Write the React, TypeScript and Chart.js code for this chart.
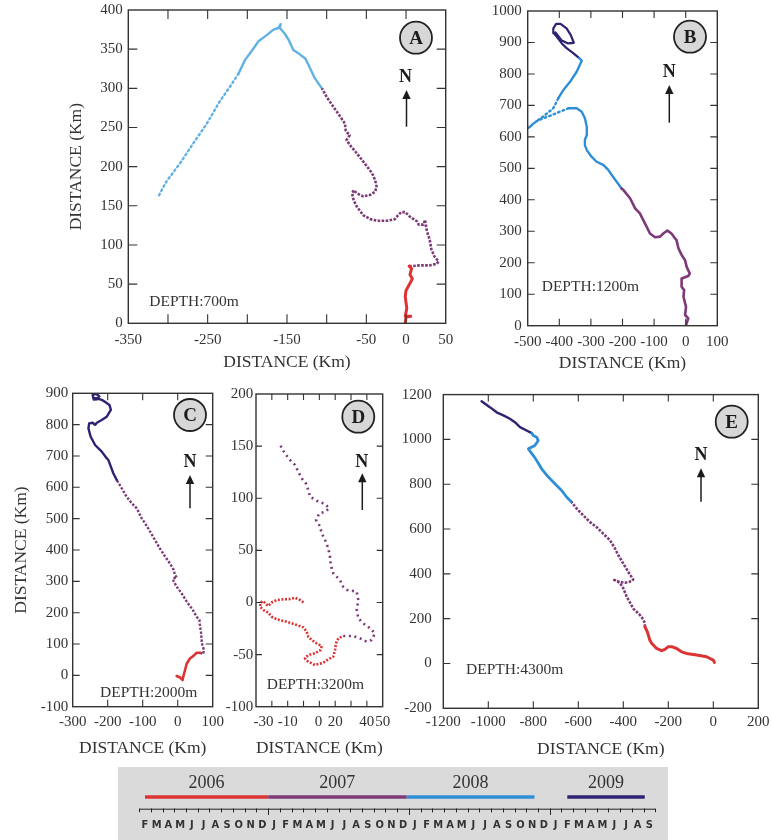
import React, { useEffect, useRef } from 'react';
import { Chart, registerables } from 'chart.js';
Chart.register(...registerables);

const SERIF = '"Liberation Serif", "Times New Roman", serif';
const NARROW = '"Liberation Sans Narrow", "DejaVu Sans Condensed", "Arial Narrow", sans-serif';
const INK = '#333333';

const C2006 = '#dc3434';
const C2007 = '#7d3a78';
const C2008 = '#2f8fd6';
const C2008_LIGHT = '#62b1e3';
const C2009 = '#2c2472';

// ---------------- Panel A : depth 700 m ----------------
const A_2006 = [[-1, 0], [0, 8], [6, 9], [-1, 9], [1, 19], [-1, 34], [0, 42], [5, 51], [8, 57], [5, 62], [7, 70], [4, 73]];
const A_2007 = [[4, 73], [7, 73], [18, 74], [30, 74], [39, 76], [41, 79], [36, 85], [32, 94], [30, 106], [26, 119], [24, 132], [22, 126], [16, 126], [14, 130], [5, 136], [-1, 142], [-6, 142], [-10, 138], [-14, 133], [-24, 131], [-37, 131], [-45, 133], [-54, 138], [-62, 149], [-66, 157], [-68, 166], [-66, 170], [-62, 166], [-54, 162], [-45, 164], [-39, 168], [-37, 174], [-39, 183], [-43, 192], [-52, 204], [-62, 217], [-71, 228], [-75, 234], [-71, 240], [-76, 246], [-77, 255], [-83, 264], [-92, 277], [-100, 289], [-106, 300]];
const A_2008 = [[-106, 300], [-115, 313], [-123, 330], [-127, 338], [-136, 345], [-142, 349], [-148, 362], [-153, 370], [-159, 377], [-158, 382], [-161, 377], [-167, 375], [-178, 366], [-186, 360], [-195, 347], [-203, 336], [-211, 319], [-222, 302], [-235, 283], [-251, 255], [-268, 230], [-285, 204], [-302, 181], [-310, 166], [-312, 162]];

// ---------------- Panel B : depth 1200 m ----------------
const B_2007 = [[1, 2], [8, 23], [-2, 34], [1, 60], [-7, 92], [-5, 113], [-13, 124], [-13, 150], [8, 158], [13, 166], [3, 187], [-2, 208], [-13, 225], [-23, 246], [-29, 272], [-34, 278], [-45, 293], [-58, 302], [-71, 293], [-81, 283], [-97, 281], [-113, 293], [-129, 325], [-145, 357], [-160, 373], [-176, 405], [-197, 431], [-203, 436]];
const B_2008 = [[-203, 436], [-219, 458], [-234, 479], [-245, 495], [-261, 511], [-282, 521], [-298, 537], [-313, 558], [-319, 574], [-319, 590], [-313, 606], [-313, 632], [-319, 659], [-329, 680], [-345, 691], [-371, 691], [-398, 680], [-424, 669], [-456, 657], [-477, 647], [-498, 628], [-472, 650], [-447, 668], [-419, 691], [-403, 723], [-387, 749], [-366, 775], [-345, 807], [-329, 842], [-337, 850]];
const B_2009 = [[-337, 850], [-356, 866], [-377, 882], [-392, 897], [-408, 918], [-417, 929], [-419, 945], [-410, 959], [-396, 959], [-377, 945], [-364, 924], [-354, 899], [-372, 897], [-392, 906], [-406, 924], [-412, 932]];

// ---------------- Panel C : depth 2000 m ----------------
const C_2006 = [[-3, -2], [7, -7], [14, -15], [16, -4], [21, 17], [26, 38], [35, 54], [45, 62], [54, 72], [64, 72]];
const C_2007 = [[64, 72], [73, 68], [75, 81], [69, 102], [67, 134], [64, 155], [62, 177], [54, 187], [43, 209], [35, 221], [26, 235], [11, 262], [-3, 283], [-12, 301], [-13, 310], [-2, 312], [-8, 320], [-11, 336], [-22, 357], [-36, 379], [-51, 405], [-65, 432], [-79, 459], [-93, 485], [-103, 501], [-117, 533], [-131, 549], [-146, 570], [-160, 597], [-174, 623]];
const C_2009 = [[-174, 623], [-184, 645], [-191, 666], [-198, 687], [-203, 693], [-217, 714], [-236, 735], [-249, 762], [-255, 788], [-253, 804], [-243, 806], [-236, 799], [-231, 806], [-217, 815], [-203, 825], [-191, 847], [-195, 863], [-208, 873], [-217, 879], [-231, 884], [-241, 884], [-243, 895], [-233, 898], [-224, 891], [-230, 881], [-240, 880]];

// ---------------- Panel D : depth 3200 m ----------------
const D_2006 = [[0, 0], [-2.2, 2.4], [-5.4, 4.6], [-8.5, 3.3], [-12.8, 3], [-16.9, 2.4], [-20.1, 0], [-22.2, -3.4], [-23.7, -1.5], [-25.4, 1.4], [-27, 0], [-27.5, -4], [-25.4, -7.2], [-22.2, -9.8], [-20.1, -13.7], [-16.9, -16.2], [-10.6, -18.5], [-4.3, -21.6], [-0.1, -23.9], [2, -28], [3, -32.9], [5.2, -36], [8.3, -39.2], [11.5, -41.8], [10.8, -45.6], [7.2, -48.8], [3, -50.4], [0.9, -53.6], [2, -55.9], [7.2, -60], [12.5, -57.8], [15.6, -54.5], [18.8, -52], [19.9, -45.6], [20.5, -39.2], [22, -34.4], [25.1, -32.2]];
const D_2007 = [[25.1, -32.2], [31.4, -32.2], [35.7, -34.4], [39.9, -37.6], [43, -36], [45.1, -29.6], [42, -24.8], [37.7, -20], [34.6, -15.2], [33.6, -7.2], [34.6, 2.4], [33.6, 10.3], [27.6, 12], [25.1, 15], [23, 21.5], [18.8, 28], [17.2, 36], [16.7, 44], [15.6, 52], [13.6, 60], [11.5, 66.4], [10.4, 72.7], [9.3, 76], [7.9, 79], [10, 85.5], [13.6, 87], [16.3, 90.3], [14.2, 93.5], [11.5, 95.7], [8.3, 97.6], [4.1, 101.5], [3, 108], [1.6, 114], [-1.1, 119], [-3.3, 125.5], [-5.4, 132], [-8.5, 136.7], [-11.7, 143], [-13.8, 148], [-14.8, 152]];

// ---------------- Panel E : depth 4300 m ----------------
const E_2006 = [[5, 5], [0, 15], [-30, 30], [-74, 38], [-119, 45], [-141, 52], [-163, 67], [-185, 75], [-200, 75], [-215, 63], [-230, 57], [-252, 67], [-274, 90], [-282, 104], [-293, 141], [-304, 164]];
const E_2007 = [[-304, 164], [-304, 179], [-311, 196], [-326, 216], [-341, 231], [-356, 245], [-385, 298], [-400, 335], [-415, 360], [-437, 372], [-447, 375], [-422, 366], [-393, 360], [-363, 367], [-356, 375], [-363, 386], [-378, 409], [-400, 446], [-422, 483], [-437, 513], [-459, 550], [-489, 579], [-519, 609], [-548, 631], [-578, 661], [-607, 691], [-630, 721]];
const E_2008 = [[-630, 721], [-652, 743], [-674, 772], [-704, 802], [-733, 832], [-763, 869], [-785, 906], [-800, 928], [-815, 948], [-822, 958], [-793, 973], [-778, 995], [-785, 1010], [-800, 1017], [-807, 1028]];
const E_2009 = [[-807, 1028], [-830, 1040], [-859, 1055], [-882, 1077], [-904, 1092], [-933, 1107], [-963, 1121], [-993, 1144], [-1030, 1170]];

// ---------------- Axis tick labels ----------------
const A_X_LABELS = [-350, -250, -150, -50, 0, 50];
const D_X_LABELS = [-30, -10, 0, 20, 40, 50];
// labels of panel D that the original typesets nudged to the right (leading spaces)
const D_X_NUDGE: Record<string, string> = { '-30': '    ', '0': '        ' };

// ---------------- Timeline legend ----------------
const YEAR_LABELS = ['2006', '2007', '2008', '2009'];
const YEAR_COLORS = [C2006, C2007, C2008, C2009];
const YEAR_SPAN_START = [1, 11.5, 23.3, 37];
const YEAR_SPAN_END = [11.5, 23.3, 34.2, 43.6];
const YEAR_BOUNDARIES = [11.5, 23.5, 35.5];
const MONTH_TICKS = ['F', 'M', 'A', 'M', 'J', 'J', 'A', 'S', 'O', 'N', 'D',
  'J', 'F', 'M', 'A', 'M', 'J', 'J', 'A', 'S', 'O', 'N', 'D',
  'J', 'F', 'M', 'A', 'M', 'J', 'J', 'A', 'S', 'O', 'N', 'D',
  'J', 'F', 'M', 'A', 'M', 'J', 'J', 'A', 'S'];

type Series = { pts: number[][]; color: string; width?: number; dash?: number[]; sparse?: [number, number] };
type Deco = { letter: string; circle: [number, number]; north: [number, number]; arrow: [number, number, number]; depth: string; depthPos: [number, number] };
type PanelCfg = {
  box: [number, number, number, number];
  canvas: [number, number, number, number];
  x: { min: number; max: number; step: number; labels?: number[]; nudge?: Record<string, string>; pad: number };
  y: { min: number; max: number; step: number; pad: number; title: boolean };
  tickLen: number;
  series: Series[];
  deco: Deco;
};

const SPARSE_DASH = [1.6, 3.2];

const PANELS: PanelCfg[] = [
  {
    box: [128.3, 10, 445.7, 323.3], canvas: [66, -10, 396, 383],
    x: { min: -350, max: 50, step: 50, labels: A_X_LABELS, pad: 7.7 },
    y: { min: 0, max: 400, step: 50, pad: 5.6, title: true }, tickLen: 9,
    series: [
      { pts: A_2006, color: C2006, width: 3 },
      { pts: A_2007, color: C2007, width: 2.6, dash: [2.6, 1.4] },
      { pts: A_2008, color: C2008_LIGHT, width: 2.4, sparse: [16, 24] },
    ],
    deco: { letter: 'A', circle: [416, 37.7], north: [405.5, 77.5], arrow: [406.5, 90, 126.7], depth: 'DEPTH:700m', depthPos: [149.3, 301.7] },
  },
  {
    box: [527.7, 11, 717.3, 325.7], canvas: [485, -9, 257, 383],
    x: { min: -500, max: 100, step: 100, pad: 7 },
    y: { min: 0, max: 1000, step: 100, pad: 6, title: false }, tickLen: 7,
    series: [
      { pts: B_2007, color: C2007, width: 2.6 },
      { pts: B_2008, color: C2008, width: 2.4, sparse: [15, 24] },
      { pts: B_2009, color: C2009, width: 2.2 },
    ],
    deco: { letter: 'B', circle: [690, 36.7], north: [669.3, 72], arrow: [669.3, 85, 122.7], depth: 'DEPTH:1200m', depthPos: [541.7, 286.7] },
  },
  {
    box: [72.7, 393.3, 212.7, 706.7], canvas: [11, 373, 223, 386],
    x: { min: -300, max: 100, step: 100, pad: 6 },
    y: { min: -100, max: 900, step: 100, pad: 4.4, title: true }, tickLen: 7,
    series: [
      { pts: C_2006, color: C2006, width: 2.6 },
      { pts: C_2007, color: C2007, width: 2.4, dash: [2.4, 1.6] },
      { pts: C_2009, color: C2009, width: 2.4 },
    ],
    deco: { letter: 'C', circle: [190, 415], north: [190, 462], arrow: [190, 475, 508.3], depth: 'DEPTH:2000m', depthPos: [100, 693.3] },
  },
  {
    box: [256, 394, 382.7, 706.7], canvas: [222, 374, 180, 385],
    x: { min: -30, max: 50, step: 10, labels: D_X_LABELS, nudge: D_X_NUDGE, pad: 6 },
    y: { min: -100, max: 200, step: 50, pad: 2.7, title: false }, tickLen: 6,
    series: [
      { pts: D_2006, color: C2006, width: 2.6, dash: [2, 1.6] },
      { pts: D_2007, color: C2007, width: 2.6, dash: [2, 3.6] },
    ],
    deco: { letter: 'D', circle: [358.3, 416.7], north: [361.7, 462], arrow: [362.3, 473.3, 510], depth: 'DEPTH:3200m', depthPos: [266.7, 685] },
  },
  {
    box: [443.3, 394, 758.3, 708.3], canvas: [395, 374, 383, 386],
    x: { min: -1200, max: 200, step: 200, pad: 4.4 },
    y: { min: -200, max: 1200, step: 200, pad: 11.6, title: false }, tickLen: 7,
    series: [
      { pts: E_2006, color: C2006, width: 3 },
      { pts: E_2007, color: C2007, width: 2.6, dash: [2.6, 1.4] },
      { pts: E_2008, color: C2008, width: 2.8 },
      { pts: E_2009, color: C2009, width: 2.4 },
    ],
    deco: { letter: 'E', circle: [731.7, 421.7], north: [701, 455.5], arrow: [701, 468.3, 501.7], depth: 'DEPTH:4300m', depthPos: [466, 670] },
  },
];

function makeFramePlugin(cfg: PanelCfg) {
  const [ox, oy] = cfg.canvas;
  return {
    id: 'frameDeco',
    afterDraw(chart: any) {
      const { ctx, chartArea } = chart;
      const { left, top, right, bottom } = chartArea;
      const xs = chart.scales.x;
      const ys = chart.scales.y;
      const len = cfg.tickLen;
      ctx.save();
      ctx.strokeStyle = INK;
      ctx.lineWidth = 1.4;
      ctx.strokeRect(left, top, right - left, bottom - top);
      ctx.lineWidth = 1.1;
      ctx.beginPath();
      xs.ticks.forEach((t: any) => {
        if (t.value <= xs.min || t.value >= xs.max) return;
        const p = xs.getPixelForValue(t.value);
        ctx.moveTo(p, bottom); ctx.lineTo(p, bottom - len);
        ctx.moveTo(p, top); ctx.lineTo(p, top + len);
      });
      ys.ticks.forEach((t: any) => {
        if (t.value <= ys.min || t.value >= ys.max) return;
        const p = ys.getPixelForValue(t.value);
        ctx.moveTo(left, p); ctx.lineTo(left + len, p);
        ctx.moveTo(right, p); ctx.lineTo(right - len, p);
      });
      ctx.stroke();

      const d = cfg.deco;
      const cx = d.circle[0] - ox, cy = d.circle[1] - oy;
      ctx.beginPath();
      ctx.arc(cx, cy, 16, 0, Math.PI * 2);
      ctx.fillStyle = '#d7d7d7';
      ctx.fill();
      ctx.lineWidth = 1.8;
      ctx.strokeStyle = '#222';
      ctx.stroke();
      ctx.fillStyle = '#1c1c1c';
      ctx.textAlign = 'center';
      ctx.textBaseline = 'middle';
      ctx.font = `bold 19px ${SERIF}`;
      ctx.fillText(d.letter, cx, cy + 1);

      ctx.font = `bold 18px ${SERIF}`;
      ctx.fillText('N', d.north[0] - ox, d.north[1] - oy);
      const ax = d.arrow[0] - ox, tip = d.arrow[1] - oy, tail = d.arrow[2] - oy;
      ctx.strokeStyle = '#1c1c1c';
      ctx.lineWidth = 1.5;
      ctx.beginPath();
      ctx.moveTo(ax, tail); ctx.lineTo(ax, tip + 6);
      ctx.stroke();
      ctx.beginPath();
      ctx.moveTo(ax, tip); ctx.lineTo(ax - 4.2, tip + 9); ctx.lineTo(ax + 4.2, tip + 9);
      ctx.closePath();
      ctx.fill();

      ctx.fillStyle = INK;
      ctx.textAlign = 'left';
      ctx.font = `15.5px ${SERIF}`;
      ctx.fillText(d.depth, d.depthPos[0] - ox, d.depthPos[1] - oy);
      ctx.restore();
    },
  };
}

function Panel({ cfg }: { cfg: PanelCfg }) {
  const ref = useRef<HTMLCanvasElement>(null);
  useEffect(() => {
    const [L, T, R, B] = cfg.box;
    const [cl, ct, cw, ch] = cfg.canvas;
    const tickFont = { family: SERIF, size: 15 };
    const titleFont = { family: SERIF, size: 17.5 };
    const xLabel = (v: any) => {
      if (cfg.x.labels && !cfg.x.labels.includes(v)) return '';
      const s = String(v);
      return cfg.x.nudge && cfg.x.nudge[s] ? cfg.x.nudge[s] + s : s;
    };
    const chart = new Chart(ref.current as HTMLCanvasElement, {
      type: 'scatter',
      data: {
        datasets: cfg.series.map((s) => ({
          data: s.pts.map(([x, y]) => ({ x, y })),
          showLine: true,
          borderColor: s.color,
          backgroundColor: s.color,
          borderWidth: s.width ?? 2.5,
          borderDash: s.dash ?? [],
          borderCapStyle: s.dash ? 'butt' : 'round',
          borderJoinStyle: 'round',
          pointRadius: 0,
          pointHoverRadius: 0,
          tension: 0,
          segment: s.sparse
            ? { borderDash: (c: any) => (c.p0DataIndex >= s.sparse![0] && c.p0DataIndex < s.sparse![1] ? SPARSE_DASH : undefined) }
            : undefined,
        })),
      },
      options: {
        responsive: false,
        animation: false,
        events: [],
        layout: { padding: { left: 0, top: T - ct, right: cl + cw - R, bottom: 0 } },
        plugins: { legend: { display: false }, tooltip: { enabled: false } },
        scales: {
          x: {
            type: 'linear', min: cfg.x.min, max: cfg.x.max,
            grid: { display: false, drawTicks: false, tickLength: 0 }, border: { display: false },
            ticks: {
              stepSize: cfg.x.step, padding: cfg.x.pad, font: tickFont, color: INK,
              autoSkip: false, maxRotation: 0, minRotation: 0,
              callback: xLabel,
            },
            title: { display: true, text: 'DISTANCE (Km)', font: titleFont, color: INK, padding: 0 },
            afterFit: (s: any) => { s.height = ct + ch - B; },
          },
          y: {
            type: 'linear', min: cfg.y.min, max: cfg.y.max,
            grid: { display: false, drawTicks: false, tickLength: 0 }, border: { display: false },
            ticks: { stepSize: cfg.y.step, padding: cfg.y.pad, font: tickFont, color: INK, autoSkip: false, callback: (v: any) => String(v) },
            title: { display: cfg.y.title, text: 'DISTANCE (Km)', font: titleFont, color: INK, padding: 0 },
            afterFit: (s: any) => { s.width = L - cl; },
          },
        },
      } as any,
      plugins: [makeFramePlugin(cfg)],
    });
    return () => chart.destroy();
  }, []);
  const [cl, ct, cw, ch] = cfg.canvas;
  return <canvas ref={ref} width={cw} height={ch} style={{ position: 'absolute', left: cl, top: ct, width: cw, height: ch }} />;
}

const TL_CANVAS = [118, 767, 560, 73];
const TL_BOX_WIDTH = 550;
const TL_AREA = { left: 139.1, right: 655.3, axisY: 808.7 };
const TL_BAR_LEVEL = 0.28;
const TL_LABEL_LEVEL = 0.6;

function Timeline() {
  const ref = useRef<HTMLCanvasElement>(null);
  useEffect(() => {
    const [cl, ct, cw, ch] = TL_CANVAS;
    const plugin = {
      id: 'timelineDeco',
      beforeDraw(chart: any) {
        const { ctx } = chart;
        ctx.save();
        ctx.fillStyle = '#dadada';
        ctx.fillRect(0, 0, TL_BOX_WIDTH, ch);
        ctx.restore();
      },
      afterDraw(chart: any) {
        const { ctx, chartArea } = chart;
        const xs = chart.scales.x;
        const ys = chart.scales.y;
        const yb = chartArea.bottom;
        ctx.save();
        ctx.strokeStyle = '#222';
        ctx.lineWidth = 1;
        ctx.beginPath();
        ctx.moveTo(xs.getPixelForValue(xs.min), yb + 0.5);
        ctx.lineTo(xs.getPixelForValue(xs.max), yb + 0.5);
        xs.ticks.forEach((t: any) => {
          [t.value - 0.5, t.value + 0.5].forEach((b) => {
            const p = Math.round(xs.getPixelForValue(b)) + 0.5;
            const big = YEAR_BOUNDARIES.includes(b);
            ctx.moveTo(p, yb);
            ctx.lineTo(p, yb + (big ? 6 : 3.5));
          });
        });
        ctx.stroke();
        ctx.fillStyle = INK;
        ctx.font = `18px ${SERIF}`;
        ctx.textAlign = 'center';
        ctx.textBaseline = 'middle';
        YEAR_LABELS.forEach((lab, i) => {
          const mid = (YEAR_SPAN_START[i] + YEAR_SPAN_END[i]) / 2;
          ctx.fillText(lab, xs.getPixelForValue(mid), ys.getPixelForValue(TL_LABEL_LEVEL));
        });
        ctx.restore();
      },
    };
    const chart = new Chart(ref.current as HTMLCanvasElement, {
      type: 'scatter',
      data: {
        datasets: YEAR_LABELS.map((lab, i) => ({
          label: lab,
          data: [{ x: YEAR_SPAN_START[i], y: TL_BAR_LEVEL }, { x: YEAR_SPAN_END[i], y: TL_BAR_LEVEL }],
          showLine: true,
          borderColor: YEAR_COLORS[i],
          backgroundColor: YEAR_COLORS[i],
          borderWidth: 3.4,
          borderCapStyle: 'butt',
          pointRadius: 0,
        })),
      },
      options: {
        responsive: false,
        animation: false,
        events: [],
        layout: { padding: { left: TL_AREA.left - cl, top: 0, right: cl + cw - TL_AREA.right, bottom: 0 } },
        plugins: { legend: { display: false }, tooltip: { enabled: false } },
        scales: {
          x: {
            type: 'linear', min: 0.5, max: 44.5,
            grid: { display: false, drawTicks: false, tickLength: 0 }, border: { display: false },
            afterBuildTicks: (s: any) => { s.ticks = MONTH_TICKS.map((_, i) => ({ value: i + 1 })); },
            ticks: {
              autoSkip: false, maxRotation: 0, minRotation: 0, padding: 10.3,
              font: { family: NARROW, size: 11, weight: 'bold' }, color: '#333',
              callback: (_v: any, i: number) => MONTH_TICKS[i],
            },
            afterFit: (s: any) => { s.height = ct + ch - TL_AREA.axisY; },
          },
          y: { type: 'linear', min: 0, max: 1, display: false },
        },
      } as any,
      plugins: [plugin],
    });
    return () => chart.destroy();
  }, []);
  const [cl, ct, cw, ch] = TL_CANVAS;
  return <canvas ref={ref} width={cw} height={ch} style={{ position: 'absolute', left: cl, top: ct, width: cw, height: ch }} />;
}

export default function App() {
  return (
    <div style={{ position: 'absolute', left: 0, top: 0, width: 772, height: 840, overflow: 'hidden', background: '#ffffff' }}>
      {PANELS.map((p) => (
        <Panel key={p.deco.letter} cfg={p} />
      ))}
      <Timeline />
    </div>
  );
}
